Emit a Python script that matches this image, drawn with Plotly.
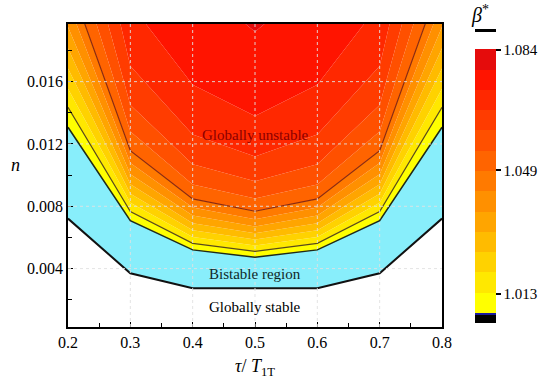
import plotly.graph_objects as go

# ---------------- data ----------------
tau = [0.2, 0.3, 0.4, 0.5, 0.6, 0.7, 0.8]

# lower boundary of the bistable region (globally stable below)
n_stable = [0.00721, 0.0037, 0.00274, 0.00274, 0.00274, 0.0037, 0.00721]

# beta* contour levels (band edges)
beta_levels = [1.0075, 1.0134, 1.0193, 1.0252, 1.0311, 1.0370, 1.0429,
               1.0488, 1.0547, 1.0606, 1.0665, 1.0724, 1.0783, 1.0842]

# n position of each beta* level at each tau (values beyond the top are off-chart)
n_L0 = [0.01307, 0.00708, 0.00520, 0.00473, 0.00520, 0.00708, 0.01307]
n_L1 = [0.01435, 0.00766, 0.00562, 0.00511, 0.00562, 0.00766, 0.01435]
n_L2 = [0.01555, 0.00822, 0.00603, 0.00548, 0.00603, 0.00822, 0.01555]
n_L3 = [0.01685, 0.00880, 0.00646, 0.00587, 0.00646, 0.00880, 0.01685]
n_L4 = [0.01815, 0.00941, 0.00691, 0.00627, 0.00691, 0.00941, 0.01815]
n_L5 = [0.01950, 0.01006, 0.00740, 0.00670, 0.00740, 0.01006, 0.01950]
n_L6 = [0.02110, 0.01078, 0.00792, 0.00717, 0.00792, 0.01078, 0.02110]
n_L7 = [0.02270, 0.01157, 0.00847, 0.00768, 0.00847, 0.01157, 0.02270]
n_L8 = [0.02550, 0.01280, 0.00940, 0.00850, 0.00940, 0.01280, 0.02550]
n_L9 = [0.02900, 0.01450, 0.01070, 0.00960, 0.01070, 0.01450, 0.02900]
n_L10 = [0.03400, 0.01700, 0.01260, 0.01120, 0.01260, 0.01700, 0.03400]
n_L11 = [0.04200, 0.02100, 0.01580, 0.01380, 0.01580, 0.02100, 0.04200]
n_L12 = [0.05500, 0.02900, 0.02250, 0.01920, 0.02250, 0.02900, 0.05500]
n_levels = [n_L0, n_L1, n_L2, n_L3, n_L4, n_L5, n_L6, n_L7, n_L8, n_L9,
            n_L10, n_L11, n_L12]

band_colors = ["#FFFF00", "#FFE800", "#FFD200", "#FFBB00", "#FFA500",
               "#FF9000", "#FF7A00", "#FF6400", "#FF5000", "#FF3C00",
               "#FF2800", "#FF1400", "#E50C0C"]

x_ticks = [0.2, 0.3, 0.4, 0.5, 0.6, 0.7, 0.8]
y_ticks = [0.004, 0.008, 0.012, 0.016]
cbar_ticks = [1.013, 1.049, 1.084]

x_range = [0.2, 0.8]
y_range = [0.00025, 0.0197]

FONT = "Liberation Serif"
CYAN = "#88EEFB"

fig = go.Figure()

# stable boundary (base for cyan fill)
fig.add_trace(go.Scatter(x=tau, y=n_stable, mode="lines",
                         line=dict(width=0), hoverinfo="skip", showlegend=False))
# bistable region
fig.add_trace(go.Scatter(x=tau, y=n_L0, mode="lines", fill="tonexty",
                         fillcolor=CYAN, line=dict(width=0),
                         hoverinfo="skip", showlegend=False))
# beta* bands
for k in range(1, len(n_levels)):
    fig.add_trace(go.Scatter(x=tau, y=n_levels[k], mode="lines", fill="tonexty",
                             fillcolor=band_colors[k - 1], line=dict(width=0),
                             hoverinfo="skip", showlegend=False))
fig.add_trace(go.Scatter(x=tau, y=[y_range[1]] * len(tau), mode="lines",
                         fill="tonexty", fillcolor=band_colors[-1],
                         line=dict(width=0), hoverinfo="skip", showlegend=False))

# gridlines (dotted, above fills)
for xv in x_ticks[1:-1]:
    fig.add_shape(type="line", x0=xv, x1=xv, y0=y_range[0], y1=y_range[1],
                  xref="x", yref="y", layer="above",
                  line=dict(color="rgba(225,225,225,0.9)", width=1, dash="dot"))
for yv in y_ticks:
    fig.add_shape(type="line", x0=x_range[0], x1=x_range[1], y0=yv, y1=yv,
                  xref="x", yref="y", layer="above",
                  line=dict(color="rgba(225,225,225,0.9)", width=1, dash="dot"))

# boundary / contour lines
fig.add_trace(go.Scatter(x=tau, y=n_stable, mode="lines",
                         line=dict(color="#111111", width=2),
                         hoverinfo="skip", showlegend=False))
fig.add_trace(go.Scatter(x=tau, y=n_L0, mode="lines",
                         line=dict(color="#1f2a1a", width=1.5),
                         hoverinfo="skip", showlegend=False))
fig.add_trace(go.Scatter(x=tau, y=n_L1, mode="lines",
                         line=dict(color="#5a4a1a", width=1.2),
                         hoverinfo="skip", showlegend=False))
fig.add_trace(go.Scatter(x=tau, y=n_L7, mode="lines",
                         line=dict(color="#8a2a10", width=1.2),
                         hoverinfo="skip", showlegend=False))

# colorbar (dummy trace)
cmin, cmax = 1.00456, 1.0901
def f(v):
    return (v - cmin) / (cmax - cmin)
cs = [[0.0, "black"], [f(1.0069), "black"], [f(1.0069), "#1a1aa0"],
      [f(beta_levels[0]), "#1a1aa0"]]
for k, c in enumerate(band_colors):
    cs.append([f(beta_levels[k]), c])
    cs.append([f(beta_levels[k + 1]), c])
cs += [[f(beta_levels[-1]), "white"], [f(1.0892), "white"],
       [f(1.0892), "black"], [1.0, "black"]]

fig.add_trace(go.Scatter(
    x=[0.5], y=[0.05], mode="markers", hoverinfo="skip", showlegend=False,
    marker=dict(color=[1.05], colorscale=cs, cmin=cmin, cmax=cmax, size=1,
                showscale=True,
                colorbar=dict(x=(478 - 68) / 377, xanchor="left", xpad=0,
                              y=(327 - 176) / 303, yanchor="middle", ypad=0,
                              len=294, lenmode="pixels", thickness=21,
                              outlinewidth=0,
                              tickvals=cbar_ticks,
                              ticktext=[f"{v:.3f}" for v in cbar_ticks],
                              ticks="outside", ticklen=5, tickwidth=2,
                              tickcolor="black",
                              tickfont=dict(family=FONT, size=15, color="black")))))

# text labels
fig.add_annotation(x=0.5, y=0.01257, xref="x", yref="y", showarrow=False,
                   text="Globally unstable",
                   font=dict(family=FONT, size=15, color="#8B0000"))
fig.add_annotation(x=0.5, y=0.00365, xref="x", yref="y", showarrow=False,
                   text="Bistable region",
                   font=dict(family=FONT, size=15, color="#102828"))
fig.add_annotation(x=0.5, y=0.00153, xref="x", yref="y", showarrow=False,
                   text="Globally stable",
                   font=dict(family=FONT, size=15, color="black"))

# axis titles
fig.add_annotation(x=0.5, y=(327 - 367) / 303, xref="paper", yref="paper",
                   showarrow=False, yanchor="middle",
                   text="<i>τ</i>/ <i>T</i><sub>1T</sub>",
                   font=dict(family=FONT, size=18, color="black"))
fig.add_annotation(x=(9 - 68) / 377, y=(327 - 165) / 303, xref="paper",
                   yref="paper", showarrow=False,
                   text="<i>n</i>",
                   font=dict(family=FONT, size=18, color="black"))
fig.add_annotation(x=(494 - 68) / 377, y=(327 - 14) / 303, xref="paper",
                   yref="paper", showarrow=False, yanchor="middle",
                   text="<i>β</i><sup>*</sup>",
                   font=dict(family=FONT, size=20, color="black"))

axis_common = dict(showline=True, linecolor="black", linewidth=1.5, mirror=True,
                   ticks="inside", ticklen=5, tickwidth=1.2, tickcolor="black",
                   showgrid=False, zeroline=False,
                   tickfont=dict(family=FONT, size=16, color="black"))

fig.update_layout(
    width=550, height=386,
    margin=dict(l=68, r=105, t=24, b=59),
    paper_bgcolor="white", plot_bgcolor="white",
    xaxis=dict(range=x_range, tickvals=x_ticks,
               ticktext=[f"{v:.1f}" for v in x_ticks],
               minor=dict(dtick=0.05, tick0=0.2, ticks="inside", ticklen=4,
                          tickcolor="black", tickwidth=1.2),
               **axis_common),
    yaxis=dict(range=y_range, tickvals=y_ticks,
               ticktext=[f"{v:.3f}" for v in y_ticks],
               minor=dict(dtick=0.002, tick0=0, ticks="inside", ticklen=4,
                          tickcolor="black", tickwidth=1.2),
               **axis_common),
)

fig.write_html("out.html",
               config={"displayModeBar": False},
               post_script="document.body.style.margin='0px';"
                           "document.body.style.overflow='hidden';")
